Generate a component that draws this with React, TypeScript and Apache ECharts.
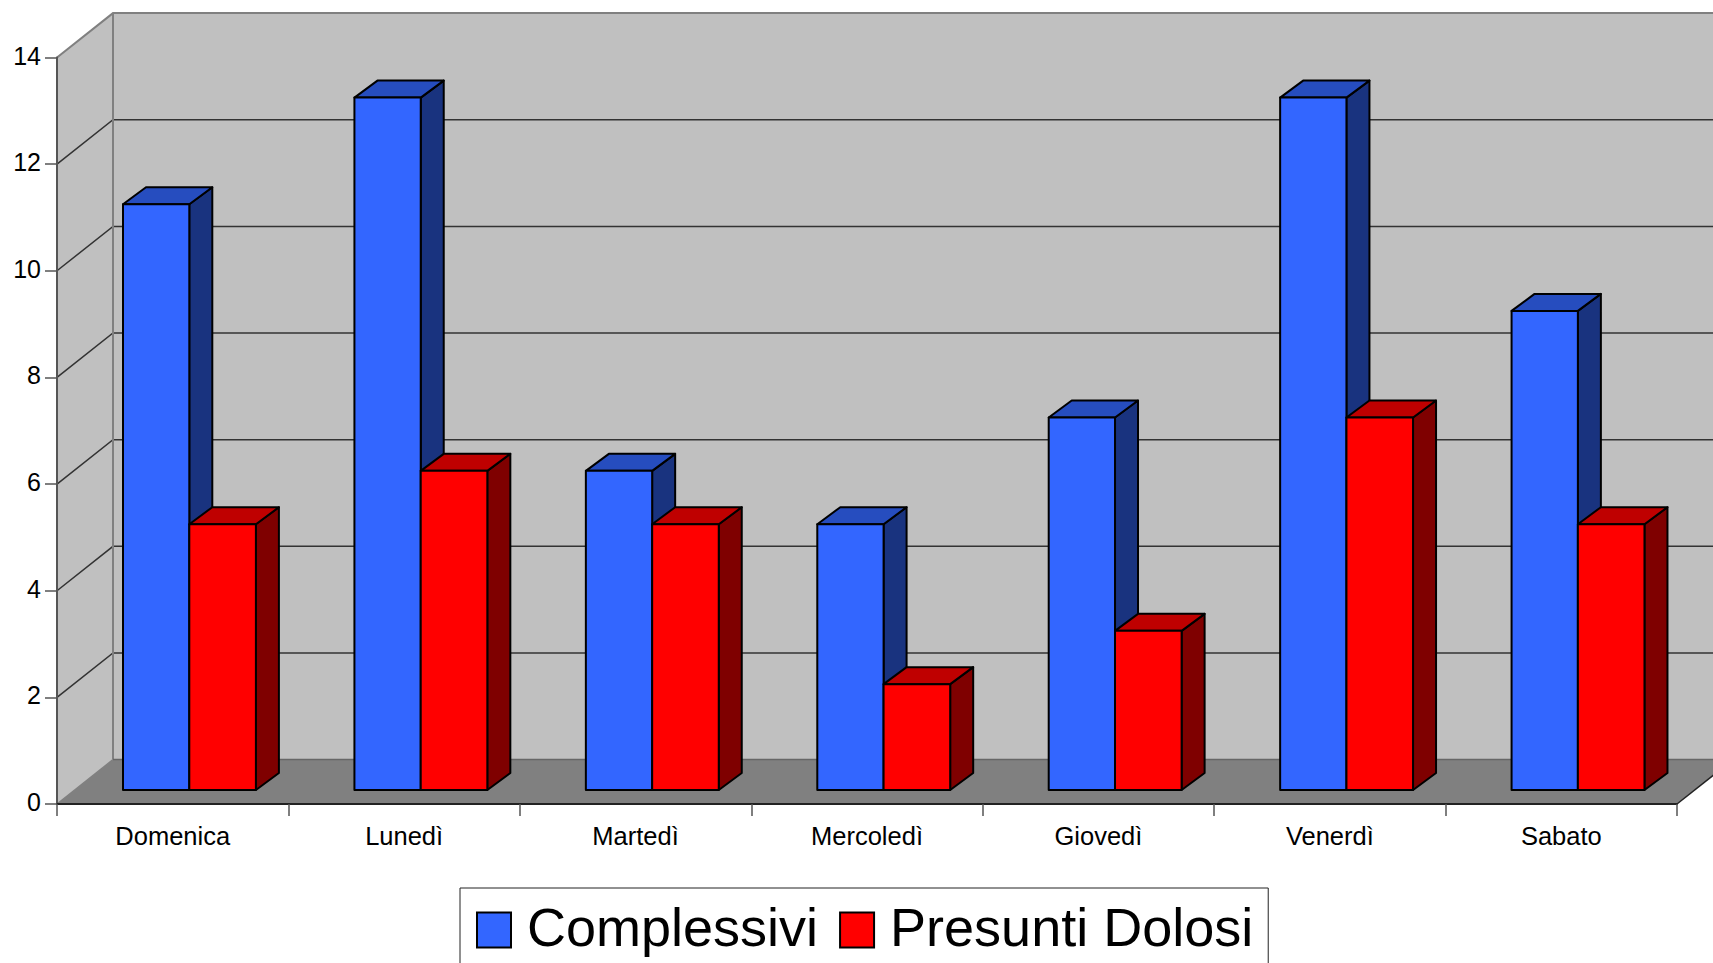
import React, { useEffect, useRef } from "react";
import * as echarts from "echarts";

const categories = ["Domenica", "Lunedì", "Martedì", "Mercoledì", "Giovedì", "Venerdì", "Sabato"];
const complessivi = [11, 13, 6, 5, 7, 13, 9];
const presuntiDolosi = [5, 6, 5, 2, 3, 7, 5];
const yTicks = [0, 2, 4, 6, 8, 10, 12, 14];

const FONT = "'Liberation Sans', Arial, sans-serif";
const DEPTH_X = 56;
const DEPTH_Y = -44.4;
const BAR_DX = 23;
const BAR_DY = -17;
const BAR_INSET_Y = -14;
const BAR_TOP_NUDGE = 0.8;

function wallsRenderItem(_params: any, api: any) {
  const left = api.coord([0, 0])[0] - api.size([1, 0])[0] / 2;
  const right = left + api.size([1, 0])[0] * categories.length;
  const y = (v: number) => api.coord([0, v])[1];
  const bottom = y(0);
  const top = y(14);
  const children: any[] = [
    { type: "polygon", shape: { points: [[left + DEPTH_X, top + DEPTH_Y], [right + DEPTH_X, top + DEPTH_Y], [right + DEPTH_X, bottom + DEPTH_Y], [left + DEPTH_X, bottom + DEPTH_Y]] }, style: { fill: "#c0c0c0" } },
    { type: "polygon", shape: { points: [[left, top], [left + DEPTH_X, top + DEPTH_Y], [left + DEPTH_X, bottom + DEPTH_Y], [left, bottom]] }, style: { fill: "#c0c0c0" } },
    { type: "polygon", shape: { points: [[left, bottom], [left + DEPTH_X, bottom + DEPTH_Y], [right + DEPTH_X, bottom + DEPTH_Y], [right, bottom]] }, style: { fill: "#808080" } },
  ];
  yTicks.forEach((t) => {
    if (t === 0 || t === 14) return;
    const yy = y(t);
    children.push({
      type: "polyline",
      shape: { points: [[left, yy], [left + DEPTH_X, yy + DEPTH_Y], [right + DEPTH_X, yy + DEPTH_Y]] },
      style: { fill: "none", stroke: "#333333", lineWidth: 1.5 },
    });
  });
  children.push(
    { type: "polyline", shape: { points: [[left, top], [left + DEPTH_X, top + DEPTH_Y], [right + DEPTH_X, top + DEPTH_Y]] }, style: { fill: "none", stroke: "#808080", lineWidth: 2 } },
    { type: "line", shape: { x1: left + DEPTH_X, y1: top + DEPTH_Y, x2: left + DEPTH_X, y2: bottom + DEPTH_Y }, style: { stroke: "#808080", lineWidth: 2 } },
    { type: "line", shape: { x1: left, y1: bottom, x2: left + DEPTH_X, y2: bottom + DEPTH_Y }, style: { stroke: "#808080", lineWidth: 1.5 } },
    { type: "line", shape: { x1: left + DEPTH_X, y1: bottom + DEPTH_Y, x2: right + DEPTH_X, y2: bottom + DEPTH_Y }, style: { stroke: "#666666", lineWidth: 1.5 } },
    { type: "line", shape: { x1: right, y1: bottom, x2: right + DEPTH_X, y2: bottom + DEPTH_Y }, style: { stroke: "#222222", lineWidth: 1.5 } }
  );
  return { type: "group", children };
}

function barRenderer(offset: number, width: number, front: string, topFace: string, side: string) {
  return (_params: any, api: any) => {
    const idx = api.value(0);
    const val = api.value(1);
    const band = api.size([1, 0])[0];
    const x0 = api.coord([idx, 0])[0] - band / 2 + offset;
    const x1 = x0 + width;
    const yb = api.coord([idx, 0])[1] + BAR_INSET_Y;
    const yt = api.coord([idx, val])[1] + BAR_INSET_Y + BAR_TOP_NUDGE;
    const style = (fill: string) => ({ fill, stroke: "#000000", lineWidth: 2, lineJoin: "round" });
    return {
      type: "group",
      children: [
        { type: "polygon", shape: { points: [[x1, yt], [x1 + BAR_DX, yt + BAR_DY], [x1 + BAR_DX, yb + BAR_DY], [x1, yb]] }, style: style(side) },
        { type: "polygon", shape: { points: [[x0, yt], [x0 + BAR_DX, yt + BAR_DY], [x1 + BAR_DX, yt + BAR_DY], [x1, yt]] }, style: style(topFace) },
        { type: "polygon", shape: { points: [[x0, yt], [x1, yt], [x1, yb], [x0, yb]] }, style: style(front) },
      ],
    };
  };
}

export default function App() {
  const ref = useRef<HTMLDivElement>(null);
  useEffect(() => {
    document.body.style.margin = "0";
    const chart = echarts.init(ref.current!, undefined, { renderer: "svg" });
    chart.setOption({
      animation: false,
      backgroundColor: "#ffffff",
      textStyle: { fontFamily: FONT },
      grid: { left: 57, right: 36, top: 57.5, bottom: 159, containLabel: false },
      legend: {
        show: true,
        data: ["Complessivi", "Presunti Dolosi"],
        left: 460,
        top: 888,
        orient: "horizontal",
        icon: "path://M0,0 M0,6 L34,6 L34,41 L0,41 Z",
        itemWidth: 34,
        itemHeight: 41,
        itemGap: 21,
        padding: [12, 15, 20, 16],
        borderColor: "#222222",
        borderWidth: 1,
        itemStyle: { borderColor: "#000000", borderWidth: 2 },
        textStyle: { fontSize: 54, color: "#000000", fontFamily: FONT, padding: [0, 0, 0, 11] },
        selectedMode: false,
      },
      xAxis: {
        type: "category",
        data: categories,
        z: 3,
        boundaryGap: true,
        axisLine: { show: true, lineStyle: { color: "#222222", width: 2 } },
        axisTick: { show: true, length: 12, lineStyle: { color: "#555555", width: 1.5 } },
        axisLabel: { fontSize: 25.5, color: "#000000", fontFamily: FONT, margin: 19 },
        splitLine: { show: false },
      },
      yAxis: {
        type: "value",
        min: 0,
        max: 14,
        interval: 2,
        z: 3,
        axisLine: { show: true, lineStyle: { color: "#555555", width: 2 } },
        axisTick: { show: true, length: 12, lineStyle: { color: "#555555", width: 1.5 } },
        axisLabel: { fontSize: 25, color: "#000000", fontFamily: FONT, margin: 16, verticalAlign: "bottom", lineHeight: 4 },
        splitLine: { show: false },
      },
      series: [
        { type: "custom", name: "walls", renderItem: wallsRenderItem, data: [[0, 0]], encode: { x: 0, y: 1 }, silent: true, clip: false, z: 1 },
        {
          type: "custom",
          name: "Complessivi",
          itemStyle: { color: "#3366ff" },
          renderItem: barRenderer(66, 66.3, "#3366ff", "#264dbf", "#19337f"),
          data: complessivi.map((v, i) => [i, v]),
          encode: { x: 0, y: 1 },
          clip: false,
          z: 2,
        },
        {
          type: "custom",
          name: "Presunti Dolosi",
          itemStyle: { color: "#ff0000" },
          renderItem: barRenderer(132.3, 66.6, "#ff0000", "#bf0000", "#7f0000"),
          data: presuntiDolosi.map((v, i) => [i, v]),
          encode: { x: 0, y: 1 },
          clip: false,
          z: 2,
        },
      ],
    });
    return () => chart.dispose();
  }, []);
  return <div ref={ref} style={{ position: "absolute", left: 0, top: 0, width: 1713, height: 963 }} />;
}
